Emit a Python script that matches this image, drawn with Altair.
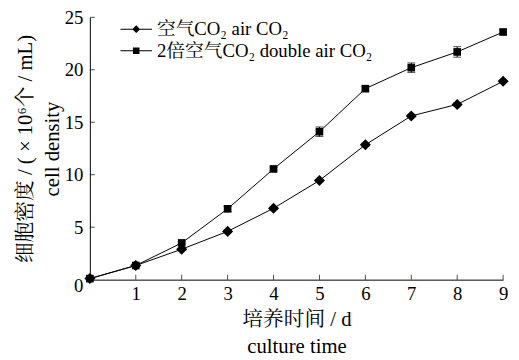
import altair as alt
import pandas as pd

days = [0, 1, 2, 3, 4, 5, 6, 7, 8, 9]
air = [0.1, 1.35, 2.9, 4.6, 6.8, 9.45, 12.85, 15.6, 16.7, 18.9]
air_err = [0.0, 0.05, 0.1, 0.1, 0.1, 0.1, 0.15, 0.15, 0.15, 0.1]
double = [0.1, 1.35, 3.5, 6.75, 10.55, 14.1, 18.2, 20.2, 21.7, 23.6]
double_err = [0.0, 0.05, 0.1, 0.25, 0.15, 0.45, 0.25, 0.45, 0.5, 0.2]
series_labels = ["空气CO₂ air CO₂", "2倍空气CO₂ double air CO₂"]
x_ticks = [1, 2, 3, 4, 5, 6, 7, 8, 9]
y_ticks = [0, 5, 10, 15, 20, 25]
x_title = ["培养时间 / d", "culture time"]
y_title = ["细胞密度 / ( × 10⁶个 / mL)", "cell density"]

rows = []
for name, vals, errs in [(series_labels[0], air, air_err), (series_labels[1], double, double_err)]:
    for d, v, e in zip(days, vals, errs):
        rows.append({"day": d, "value": v, "lo": v - e, "hi": v + e, "series": name})
df = pd.DataFrame(rows)
xticks_df = pd.DataFrame({"day": x_ticks, "zero": [0] * len(x_ticks)})
yticks_df = pd.DataFrame({"value": y_ticks[1:], "zero": [0] * (len(y_ticks) - 1)})

FONT = "Liberation Serif, Times New Roman, Noto Serif CJK SC, Noto Sans CJK SC, serif"

xscale = alt.Scale(domain=[0, 9], nice=False, zero=False)
yscale = alt.Scale(domain=[0, 25], nice=False)

x_axis = alt.Axis(values=x_ticks, title=x_title, tickSize=0, labelPadding=5,
                  titlePadding=5, titleLineHeight=28, titleFontSize=21,
                  grid=False, labelFlush=False)
y_axis = alt.Axis(values=y_ticks, title=y_title, tickSize=0, labelPadding=7,
                  titlePadding=2, titleLineHeight=27, titleFontSize=21, grid=False,
                  labelOffset={"condition": {"test": "datum.value === 0", "value": 6}, "value": 0})

base = alt.Chart(df).encode(
    x=alt.X("day:Q", scale=xscale, axis=x_axis),
    y=alt.Y("value:Q", scale=yscale, axis=y_axis),
)

lines = base.mark_line(color="black", strokeWidth=1).encode(detail="series:N")

err_rule = base.mark_rule(color="black", strokeWidth=1).encode(
    y=alt.Y("lo:Q", scale=yscale, axis=y_axis), y2="hi:Q")
cap_lo = base.mark_tick(color="black", orient="horizontal", size=8, thickness=1).encode(
    y=alt.Y("lo:Q", scale=yscale, axis=y_axis))
cap_hi = base.mark_tick(color="black", orient="horizontal", size=8, thickness=1).encode(
    y=alt.Y("hi:Q", scale=yscale, axis=y_axis))

points = base.mark_point(filled=True, color="black", opacity=1).encode(
    shape=alt.Shape("series:N", scale=alt.Scale(domain=series_labels, range=["diamond", "square"]), legend=None),
    size=alt.Size("series:N", scale=alt.Scale(domain=series_labels, range=[125, 60]), legend=None),
)

path_d = "M-1.6,-0.05L1.6,-0.05L1.6,0.05L-1.6,0.05Z M0,-0.4L0.4,0L0,0.4L-0.4,0Z"
path_s = "M-1.6,-0.05L1.6,-0.05L1.6,0.05L-1.6,0.05Z M-0.33,-0.33L0.33,-0.33L0.33,0.33L-0.33,0.33Z"
legend_layer = base.mark_point(filled=True, color="black", opacity=0).encode(
    shape=alt.Shape(
        "series:N",
        scale=alt.Scale(domain=series_labels, range=[path_d, path_s]),
        legend=alt.Legend(
            title=None, orient="none", legendX=37, legendY=2, padding=0,
            symbolSize=400, symbolOpacity=1, symbolFillColor="black",
            symbolStrokeWidth=0,
            labelFontSize=19, labelFont=FONT, labelColor="black",
            labelOffset=11, rowPadding=2, labelLimit=400,
        ),
    )
)

xticks = alt.Chart(xticks_df).mark_tick(color="black", orient="vertical", size=5, thickness=1, yOffset=-2.5).encode(
    x=alt.X("day:Q", scale=xscale, axis=x_axis),
    y=alt.Y("zero:Q", scale=yscale, axis=y_axis),
)
yticks = alt.Chart(yticks_df).mark_tick(color="black", orient="horizontal", size=5, thickness=1, xOffset=2.5).encode(
    x=alt.X("zero:Q", scale=xscale, axis=x_axis),
    y=alt.Y("value:Q", scale=yscale, axis=y_axis),
)

chart = alt.layer(lines, err_rule, cap_lo, cap_hi, points, legend_layer, xticks, yticks).resolve_scale(
    shape="independent"
).properties(
    width=419, height=266,
    background="white",
    autosize=alt.AutoSizeParams(type="none"),
    padding={"left": 83, "top": 7, "right": 8, "bottom": 77},
).configure_view(stroke=None).configure_axis(
    domainColor="black", tickColor="black", labelColor="black", titleColor="black",
    labelFont=FONT, titleFont=FONT, labelFontSize=19,
    titleFontWeight="normal", domainWidth=1, tickWidth=1,
)

chart.save("out.html", embed_options={"renderer": "svg", "actions": False})
